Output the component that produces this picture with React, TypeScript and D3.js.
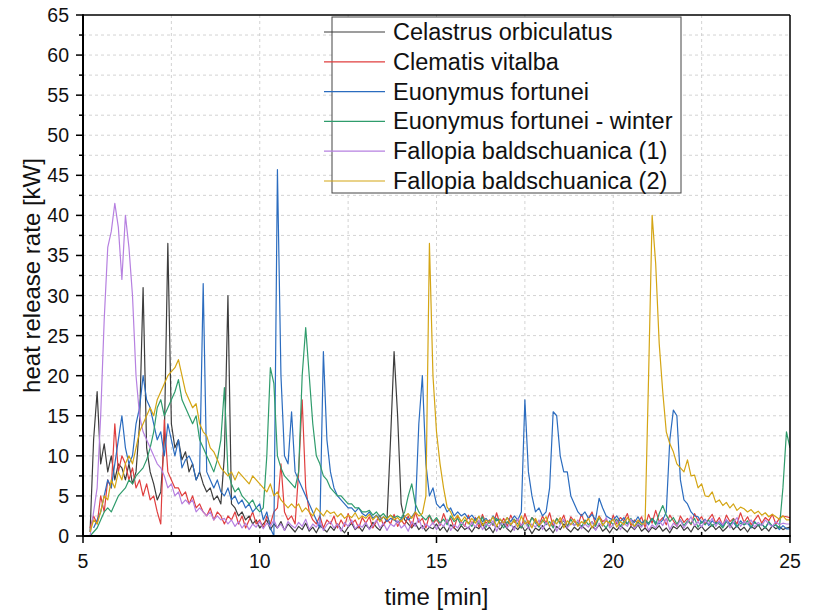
import React from "react";
import * as d3 from "d3";

const seriesNames = [
  "Celastrus orbiculatus",
  "Clematis vitalba",
  "Euonymus fortunei",
  "Euonymus fortunei - winter",
  "Fallopia baldschuanica (1)",
  "Fallopia baldschuanica (2)",
];
const seriesColors = ["#3c3c3c", "#e03e3e", "#2b6cbf", "#2f9c6c", "#b680e0", "#d4a514"];
const seriesStart = [5.2, 5.2, 5.3, 5.2, 5.2, 5.2];
const STEP = 0.1;

const celastrus = [
  0.5, 12, 18, 9, 11.5, 8, 10, 7,
  9, 8.5, 7, 9, 6.5, 8, 14, 31, 11, 8,
  6.5, 4.5, 5.5, 12, 36.5, 14, 11, 12, 9.5, 10.5,
  8, 9, 7, 8, 6.5, 5.5, 6, 4.5, 5, 4,
  10, 30, 4, 3.5, 2.5, 3, 2, 2.5, 1.5, 2,
  1, 1.5, 2, 0.8, 1.5, 1, 1.8, 0.7, 1.5, 1,
  0.5, 1.2, 0.8, 1.6, 0.6, 1.1, 0.4, 1.3, 0.9, 0.5,
  1.2, 0.7, 1.5, 0.9, 0.4, 1.1, 1.6, 0.8, 1.2, 0.6,
  1.4, 0.9, 1.7, 1.1, 0.7, 1.5, 2, 12, 23, 15,
  4, 2, 1.5, 1, 1.6, 0.8, 1.3, 0.6, 1.1, 0.9,
  1.5, 0.7, 1.2, 0.5, 1.4, 1, 0.6, 1.3, 0.8, 1.1,
  0.5, 1.2, 0.9, 1.6, 0.7, 1.1, 0.4, 1.3, 0.8, 1.5,
  0.9, 0.5, 1.2, 0.8, 1.4, 0.6, 1.1, 0.3, 1, 0.7,
  1.3, 0.6, 1, 0.4, 1.2, 0.8, 1.5, 0.9, 0.5, 1.1,
  0.7, 1.3, 0.9, 0.5, 1.2, 0.8, 1.4, 0.6, 1, 0.4,
  1.1, 0.7, 1.3, 0.9, 0.5, 1.2, 0.8, 1.4, 0.6, 1,
  0.5, 1.1, 0.8, 1.3, 0.6, 1, 0.4, 1.2, 0.9, 1.4,
  0.7, 1.1, 0.5, 1.3, 0.8, 1.2, 0.6, 1, 1.4, 0.8,
  1.2, 0.6, 1, 1.5, 0.8, 1.3, 0.7, 1.1, 0.5, 1.2,
  0.9, 1.4, 0.7, 1.1, 0.6, 1.3, 0.9, 1.2, 0.8, 1,
  1.1,
];

const clematis = [
  1, 2.5, 1.5, 5, 3, 7, 6, 14,
  8, 10, 9, 7, 8.5, 6, 7, 5, 6.5, 4.5,
  5, 3, 1.5, 14.5, 8, 7, 6, 6, 5, 5.5,
  4, 5, 3.5, 4, 3, 2.5, 3.5, 2, 3, 2.5,
  1.5, 2.5, 2, 3, 1.5, 2.5, 1, 2, 3, 1.5,
  2, 1, 2.5, 1.5, 3, 3.5, 9, 3, 2, 2.5,
  1.5, 8, 17, 6, 3, 2, 1.5, 2.5, 1, 2,
  1.5, 2.5, 1, 2, 1.2, 2.8, 1.5, 2, 1, 2.3,
  1.6, 2.4, 1, 1.8, 2.6, 1.3, 2.1, 1.5, 2.7, 1.2,
  2, 1.4, 2.5, 1.1, 3, 1.7, 2.2, 1, 2.6, 1.5,
  2.1, 1.3, 2.8, 1.6, 2.2, 1, 2.5, 1.8, 1.2, 2.6,
  1.5, 2.3, 1.1, 2.7, 1.6, 2, 1.3, 2.9, 1.4, 2.2,
  1.2, 2.6, 1.7, 2.1, 1, 2.8, 1.5, 2.3, 1.9, 1.3,
  2.5, 1.6, 2.9, 1.2, 2.2, 1.7, 2.6, 1.1, 2.4, 1.8,
  1.3, 2.7, 1.6, 2.2, 3, 1.4, 2.5, 1.8, 2.1, 1.2,
  2.6, 1.5, 2.3, 1.9, 2.8, 1.3, 2, 1.6, 2.4, 1.1,
  2.7, 1.6, 3.2, 1.8, 2.3, 1.4, 2.6, 1.9, 1.2, 2.5,
  1.7, 2.2, 1.4, 2.8, 1.9, 2.4, 1.5, 2.1, 2.7, 1.6,
  2.3, 1.3, 2.6, 1.8, 2.2, 1.5, 2.9, 1.7, 2.4, 1.4,
  2, 2.6, 1.6, 2.3, 1.9, 2.7, 1.5, 2.2, 2.5, 2.4,
  2.3,
];

const euonymus = [
  1, 2, 3, 5, 7, 6, 9,
  12, 15, 11, 9, 10, 14, 16, 20, 17, 16,
  14, 12, 13, 10, 14, 12, 10, 12, 8.5, 9.5,
  10, 9, 7, 8, 31.5, 8, 7, 6, 7, 5.5,
  5, 6, 4.5, 5, 4, 4.5, 3.5, 4, 3, 3.5,
  4, 2, 3, 1, 0, 45.7, 20, 10, 9, 15.5,
  8, 7, 6, 5, 4, 3, 2, 1, 23, 12,
  8, 6, 5, 4.5, 4, 3.5, 3.5, 3, 3.5, 2.8,
  2.5, 3, 2.2, 2.6, 2, 2.4, 1.8, 2.2, 2, 1.7,
  2.1, 2.5, 2, 2.4, 3, 14, 20, 9, 5, 6,
  4, 3.5, 4, 3, 3.5, 2.5, 3, 2.5, 2.8, 2.2,
  2.6, 2, 2.4, 1.8, 2.2, 1.6, 2.5, 1.9, 2.1, 1.5,
  2.3, 1.8, 2.5, 2, 3, 17, 8, 5, 3, 3.5,
  2.5, 3, 6, 15.5, 15, 10, 8, 8, 5, 4,
  3, 2.5, 3, 2.2, 2.7, 2, 4.7, 3.5, 2.5, 2.2,
  2, 2.5, 1.8, 2.3, 1.5, 2.1, 1.7, 2.4, 1.6, 2,
  1.4, 2.2, 1.7, 1.5, 2, 3, 12, 15.7, 15, 7,
  4.5, 4, 3, 2.5, 2.4, 1.6, 2.1, 1.3, 1.9, 1.5,
  1.8, 1.2, 2, 1.5, 1.7, 1.1, 1.9, 1.4, 1.6, 1,
  1.8, 1.3, 1.5, 1, 1.7, 1.2, 1.4, 0.8, 1.3, 0.9,
  0.9,
];

const euonymusWinter = [
  0, 0.5, 1, 2, 3, 3.5, 3, 4,
  5, 5.5, 6, 7, 6.5, 7.5, 8, 8.5, 9.5, 11,
  13, 16, 17, 15, 16, 17, 18, 19.5, 17, 16,
  15, 14, 15, 12, 11, 10, 9, 8, 9.5, 12,
  18.5, 8, 6.5, 5.5, 6, 5, 4.5, 4, 4.5, 3.5,
  3, 3.5, 10, 21, 19, 10, 8.5, 7.5, 7, 6.5,
  6, 8, 20, 26, 20, 14, 10, 9, 7.5, 7,
  6, 5.5, 5, 5, 4.5, 4, 4, 3.5, 3.5, 3,
  3, 3.2, 2.6, 3, 2.4, 2.8, 2.2, 2.6, 2.3, 2.5,
  2.2, 3, 5, 6.5, 4, 3, 2.4, 2, 2.6, 1.8,
  2.3, 1.6, 2.1, 1.4, 2.5, 1.8, 2.2, 1.3, 2, 1.7,
  1.2, 2.1, 1.5, 2.4, 1.1, 1.9, 1.4, 2.2, 1.6, 1,
  1.8, 1.3, 2.1, 1.5, 1, 1.9, 1.2, 2.3, 1.6, 1.1,
  2, 1.4, 1.8, 1, 2.2, 1.5, 1.9, 1.2, 2.1, 1.3,
  1.7, 1.1, 2, 1.4, 1.8, 1.2, 2.3, 1.5, 1, 1.9,
  1.4, 2.1, 1.2, 1.8, 1.5, 2.2, 1.1, 1.7, 1.3, 2,
  1.6, 2.2, 1.4, 2.8, 3.8, 2.6, 1.8, 2.3, 1.5, 2,
  1.3, 1.9, 1.5, 2.2, 1.1, 1.8, 1.4, 2, 1.2, 1.7,
  1.5, 1, 1.8, 1.3, 2.1, 1.2, 1.6, 1.4, 1.9, 1.1,
  1.7, 1.3, 1.5, 1, 1.8, 1.2, 1.4, 1, 6, 13,
  11,
];

const fallopia1 = [
  0, 3, 6, 15, 27, 36, 38, 41.5,
  38.5, 32, 40, 36, 30, 20, 15, 13, 12, 11,
  10, 9, 8.5, 7.5, 6, 6.5, 5, 5.5, 4, 4.5,
  4, 4.5, 3, 3.5, 3, 2.5, 3, 2, 2.5, 2,
  2.2, 1.5, 2, 1.2, 1.8, 1, 1.6, 0.8, 1.5, 1.1,
  1.8, 0.9, 1.6, 1.2, 2, 1, 1.5, 0.7, 1.8, 1.3,
  1, 1.7, 1.2, 2.1, 0.8, 1.5, 1.1, 1.9, 0.7, 1.4,
  1.8, 1, 1.5, 0.6, 1.7, 1.2, 2, 0.9, 1.4, 1.1,
  1.7, 0.8, 1.3, 2, 1, 1.6, 0.7, 1.5, 1.2, 1.9,
  1, 1.4, 0.6, 1.8, 1.2, 2.2, 0.9, 1.5, 1.1, 1.7,
  0.8, 1.6, 1.2, 2.1, 0.7, 1.4, 1, 1.8, 1.3, 0.9,
  1.7, 1.1, 2, 0.8, 1.5, 1.2, 1.9, 0.6, 1.4, 1.8,
  1, 1.6, 0.7, 2.2, 1.3, 1.8, 0.9, 1.5, 1.1, 2,
  0.8, 1.7, 1.2, 1.9, 0.6, 1.4, 2.1, 1, 1.6, 1.3,
  2, 0.9, 1.5, 1.1, 1.8, 0.7, 1.6, 1.2, 2.3, 1,
  1.4, 1.9, 0.8, 1.6, 1.2, 2.1, 0.9, 1.5, 1.1, 1.8,
  0.7, 1.4, 1, 1.9, 1.3, 2.2, 0.8, 1.6, 1.2, 2,
  1, 1.7, 2.4, 1.3, 1.8, 1.1, 2, 1.5, 2.2, 1.2,
  1.9, 1.4, 2.1, 1, 1.7, 2.3, 1.2, 1.8, 1.5, 2,
  1.1, 1.7, 1.3, 2, 1.5, 1.2, 1.8, 1.4, 1.6, 1.5,
  1.5,
];

const fallopia2 = [
  0.5, 2, 1.5, 3, 5, 4.5, 7, 6,
  8, 7, 9, 10, 9, 11, 13, 14, 15, 16,
  15, 17, 18, 19, 20, 20.5, 21, 22, 20, 18,
  17, 16, 16.5, 14, 13, 12.5, 11, 10.5, 9.5, 8.5,
  8, 7.5, 8, 7, 8, 7.5, 7, 6.5, 7.5, 7,
  6.5, 6, 5.5, 6.5, 5, 5.5, 4.5, 4, 3.5, 4,
  3.5, 4, 3, 3.5, 3, 2.5, 3.5, 3, 2.5, 3.2,
  2.8, 3, 2.4, 2.8, 2.2, 2.6, 2.3, 2.9, 2.1, 2.5,
  2.2, 2.7, 2, 2.5, 1.8, 2.4, 2.1, 2.6, 2, 2.3,
  1.8, 2.4, 2.8, 2.2, 3, 2.5, 2.8, 5, 36.5, 20,
  13, 9, 6, 3.6, 3, 2, 2.6, 1.8, 2.4, 1.5,
  2.2, 1.6, 2.5, 1.3, 2, 1.7, 2.4, 1.2, 2.1, 1.6,
  2.3, 1.4, 2, 1.1, 2.5, 1.5, 1.9, 1, 2.2, 1.3,
  1.8, 2.4, 1.2, 2, 1.5, 2.3, 1, 1.9, 1.4, 2.1,
  1.2, 1.8, 1.5, 2.2, 1, 1.7, 2.4, 1.3, 1.9, 1.6,
  2.1, 1.1, 1.8, 1.4, 2.3, 1.6, 1.2, 2, 1.5, 1.5,
  20, 40, 34, 24, 18, 13, 11.5, 10.5, 9, 8.5,
  8, 9.5, 7.5, 7.6, 6, 6.5, 5, 4.9, 5.5, 4.2,
  4.5, 3.8, 4.2, 3.5, 4, 3.2, 3.6, 3.4, 3, 3.3,
  2.8, 3.1, 2.6, 2.9, 2.4, 2.7, 2.4, 2.1, 2.5, 2,
  2,
];

const seriesValues = [celastrus, clematis, euonymus, euonymusWinter, fallopia1, fallopia2];

const xTicks = [5, 10, 15, 20, 25];
const yTicks = [0, 5, 10, 15, 20, 25, 30, 35, 40, 45, 50, 55, 60, 65];
const xTitle = "time [min]";
const yTitle = "heat release rate [kW]";

const W = 817;
const H = 611;
const L = 83, R = 790, T = 15, B = 536;
const FONT = "'Liberation Sans', Arial, sans-serif";

export default function App() {
  const x = d3.scaleLinear().domain([5, 25]).range([L, R]);
  const y = d3.scaleLinear().domain([0, 65]).range([B, T]);

  const line = d3
    .line<[number, number]>()
    .x((d) => x(d[0]))
    .y((d) => y(d[1]));

  const gridX = d3.range(5, 25.01, 2.5);
  const gridY = d3.range(0, 65.01, 2.5);
  const minorX = gridX.filter((v) => !xTicks.includes(v));
  const minorY = gridY.filter((v) => !yTicks.includes(v));

  const paths = seriesValues.map((vals, si) => {
    const pts: [number, number][] = vals.map((v, i) => [
      Math.round((seriesStart[si] + i * STEP) * 100) / 100,
      v,
    ]);
    return line(pts) || "";
  });

  const legendTop = 32;
  const legendGap = 29.8;

  return (
    <svg
      width={W}
      height={H}
      style={{ position: "absolute", left: 0, top: 0, background: "#fff" }}
      fontFamily={FONT}
    >
      <rect x={0} y={0} width={W} height={H} fill="#fff" />
      <defs>
        <clipPath id="plotClip">
          <rect x={L} y={T} width={R - L} height={B - T} />
        </clipPath>
      </defs>
      {/* grid */}
      <g stroke="#c8c8c8" strokeWidth={0.8} strokeDasharray="3,3">
        {gridX
          .filter((v) => v > 5 && v < 25)
          .map((v) => (
            <line key={"gx" + v} x1={x(v)} x2={x(v)} y1={T} y2={B} />
          ))}
        {gridY
          .filter((v) => v > 0 && v < 65)
          .map((v) => (
            <line key={"gy" + v} x1={L} x2={R} y1={y(v)} y2={y(v)} />
          ))}
      </g>
      {/* series */}
      <g clipPath="url(#plotClip)" fill="none" strokeWidth={1.2} strokeLinejoin="round">
        {paths.map((p, i) => (
          <path key={i} d={p} stroke={seriesColors[i]} />
        ))}
      </g>
      {/* frame */}
      <line x1={L} x2={R} y1={T} y2={T} stroke="#000" strokeWidth={1.5} />
      <line x1={R} x2={R} y1={T} y2={B} stroke="#000" strokeWidth={1.5} />
      <line x1={L} x2={L} y1={T - 0.75} y2={B + 1} stroke="#000" strokeWidth={2} />
      <line x1={L - 1} x2={R + 0.75} y1={B} y2={B} stroke="#000" strokeWidth={2} />
      {/* ticks */}
      <g stroke="#000" strokeWidth={1.5}>
        {yTicks.map((v) => (
          <line key={"yt" + v} x1={L - 7} x2={L} y1={y(v)} y2={y(v)} />
        ))}
        {minorY.map((v) => (
          <line key={"ym" + v} x1={L - 4} x2={L} y1={y(v)} y2={y(v)} />
        ))}
        {xTicks.map((v) => (
          <line key={"xt" + v} x1={x(v)} x2={x(v)} y1={B} y2={B + 7} />
        ))}
        {minorX.map((v) => (
          <line key={"xm" + v} x1={x(v)} x2={x(v)} y1={B - 4} y2={B} />
        ))}
      </g>
      <g fontSize={19.5} fill="#111">
        {yTicks.map((v) => (
          <text key={"yl" + v} x={L - 14} y={y(v)} textAnchor="end" dominantBaseline="central">
            {v}
          </text>
        ))}
        {xTicks.map((v) => (
          <text key={"xl" + v} x={x(v)} y={568} textAnchor="middle">
            {v}
          </text>
        ))}
      </g>
      <text x={(L + R) / 2} y={605} textAnchor="middle" fontSize={24} fill="#111">
        {xTitle}
      </text>
      <text
        transform={`translate(40, ${(T + B) / 2}) rotate(-90)`}
        textAnchor="middle"
        fontSize={24}
        fill="#111"
      >
        {yTitle}
      </text>
      {/* legend */}
      <rect x={332} y={17} width={349} height={176} fill="#fff" stroke="#444" strokeWidth={1} />
      {seriesNames.map((name, i) => {
        const yy = legendTop + i * legendGap;
        return (
          <g key={name}>
            <line x1={324} x2={385} y1={yy} y2={yy} stroke={seriesColors[i]} strokeWidth={1.2} />
            <text x={393} y={yy} dominantBaseline="central" fontSize={23.5} fill="#111">
              {name}
            </text>
          </g>
        );
      })}
    </svg>
  );
}
